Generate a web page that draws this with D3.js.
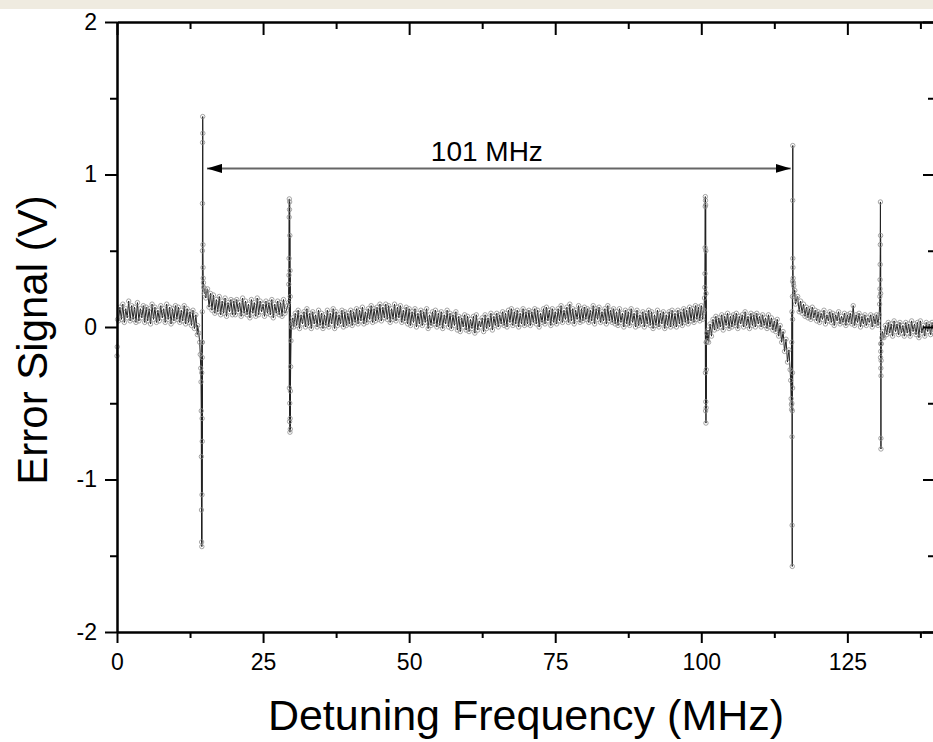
<!DOCTYPE html>
<html>
<head>
<meta charset="utf-8">
<script src="https://cdn.jsdelivr.net/npm/d3@7"></script>
<style>
  body { margin: 0; background: #fff; }
  text { font-family: "Liberation Sans", Arial, sans-serif; }
</style>
</head>
<body>
<div id="chart"></div>
<script>
let W = 933, H = 742

// upper edge of the noise band (V), every 0.5 MHz from 0.5 MHz
let bandStep = 0.5
let upperStart = 0.5
let upper = [
  0.13, 0.15, 0.12, 0.17, 0.14, 0.13, 0.16, 0.12, 0.14, 0.13,
  0.12, 0.15, 0.13, 0.11, 0.14, 0.12, 0.15, 0.13, 0.12, 0.14,
  0.13, 0.11, 0.14, 0.12, 0.10, 0.11, 0.08, 0.03, 0.10, 0.26,
  0.25, 0.22, 0.21, 0.18, 0.20, 0.17, 0.19, 0.16, 0.18, 0.17,
  0.18, 0.16, 0.19, 0.17, 0.15, 0.18, 0.16, 0.19, 0.17, 0.15,
  0.17, 0.16, 0.18, 0.15, 0.17, 0.16, 0.18, 0.17, 0.10, 0.08,
  0.09, 0.11, 0.08, 0.10, 0.12, 0.09, 0.10, 0.08, 0.11, 0.09,
  0.08, 0.11, 0.09, 0.12, 0.10, 0.08, 0.11, 0.10, 0.09, 0.11,
  0.10, 0.12, 0.11, 0.13, 0.10, 0.12, 0.14, 0.12, 0.13, 0.15,
  0.13, 0.15, 0.14, 0.12, 0.15, 0.13, 0.14, 0.11, 0.13, 0.12,
  0.10, 0.12, 0.09, 0.11, 0.10, 0.12, 0.08, 0.10, 0.11, 0.09,
  0.10, 0.08, 0.11, 0.09, 0.08, 0.10, 0.07, 0.06, 0.08, 0.07,
  0.05, 0.07, 0.08, 0.04, 0.06, 0.08, 0.06, 0.09, 0.07, 0.09,
  0.08, 0.10, 0.09, 0.11, 0.12, 0.10, 0.11, 0.09, 0.12, 0.10,
  0.11, 0.10, 0.12, 0.11, 0.09, 0.12, 0.13, 0.11, 0.12, 0.10,
  0.12, 0.14, 0.11, 0.13, 0.15, 0.12, 0.11, 0.14, 0.12, 0.13,
  0.12, 0.11, 0.14, 0.12, 0.13, 0.10, 0.12, 0.14, 0.11, 0.12,
  0.10, 0.12, 0.09, 0.11, 0.10, 0.12, 0.09, 0.11, 0.08, 0.10,
  0.09, 0.11, 0.10, 0.08, 0.11, 0.09, 0.10, 0.08, 0.10, 0.11,
  0.09, 0.11, 0.10, 0.12, 0.11, 0.13, 0.12, 0.14, 0.13, 0.14,
  0.12, 0.02, 0.02, 0.05, 0.07, 0.06, 0.08, 0.07, 0.09, 0.07,
  0.08, 0.09, 0.07, 0.08, 0.10, 0.07, 0.09, 0.08, 0.09, 0.07,
  0.08, 0.06, 0.08, 0.06, 0.04, 0.05, 0.01, -0.03, -0.08, -0.15,
  0.00, 0.00, 0.20, 0.17, 0.15, 0.13, 0.12, 0.13, 0.11, 0.10,
  0.09, 0.11, 0.08, 0.10, 0.09, 0.08, 0.10, 0.07, 0.09, 0.08,
  0.09, 0.14, 0.08, 0.09, 0.07, 0.08, 0.06, 0.08, 0.07, 0.08,
  0.00, 0.00, 0.01, 0.03, 0.02, 0.04, 0.02, 0.03, 0.01, 0.03,
  0.02, 0.04, 0.02, 0.03, 0.04, 0.01, 0.03, 0.02, 0.03, 0.02
]
// lower edge of the noise band (V), every 0.5 MHz from 0.25 MHz
let lowerStart = 0.25
let lower = [
  0.04, 0.05, 0.03, 0.06, 0.04, 0.05, 0.03, 0.04, 0.06, 0.03,
  0.04, 0.02, 0.05, 0.03, 0.04, 0.06, 0.03, 0.05, 0.02, 0.04,
  0.05, 0.03, 0.04, 0.02, 0.03, 0.01, -0.01, -0.05, 0.00, 0.00,
  0.15, 0.13, 0.11, 0.09, 0.10, 0.08, 0.09, 0.07, 0.10, 0.08,
  0.08, 0.10, 0.07, 0.09, 0.08, 0.06, 0.09, 0.07, 0.08, 0.10,
  0.07, 0.09, 0.08, 0.06, 0.09, 0.08, 0.07, 0.09, 0.00, 0.00,
  0.00, 0.01, -0.01, 0.02, 0.00, 0.01, -0.01, 0.02, 0.00, 0.01,
  -0.01, 0.01, 0.00, 0.02, -0.01, 0.01, 0.02, 0.00, 0.01, 0.02,
  0.01, 0.03, 0.02, 0.04, 0.02, 0.03, 0.05, 0.03, 0.04, 0.05,
  0.04, 0.06, 0.05, 0.03, 0.05, 0.04, 0.06, 0.03, 0.04, 0.02,
  0.01, 0.03, 0.00, 0.02, 0.01, 0.03, -0.01, 0.01, 0.02, 0.00,
  0.01, -0.01, 0.02, 0.00, -0.01, 0.01, -0.02, -0.03, 0.00, -0.02,
  -0.03, -0.01, -0.04, -0.02, 0.00, -0.03, -0.01, 0.00, -0.02, 0.01,
  0.00, 0.02, 0.01, 0.00, 0.03, 0.01, 0.02, 0.00, 0.02, 0.01,
  0.02, 0.01, 0.03, 0.02, 0.00, 0.03, 0.02, 0.04, 0.01, 0.03,
  0.02, 0.04, 0.03, 0.05, 0.03, 0.04, 0.02, 0.05, 0.03, 0.04,
  0.05, 0.03, 0.04, 0.02, 0.05, 0.03, 0.04, 0.02, 0.04, 0.03,
  0.02, 0.01, 0.03, 0.00, 0.02, 0.01, 0.03, 0.00, 0.01, 0.02,
  0.00, 0.02, 0.01, -0.01, 0.01, 0.00, 0.02, -0.01, 0.01, 0.00,
  0.01, 0.00, 0.02, 0.01, 0.03, 0.02, 0.04, 0.03, 0.05, 0.04,
  0.05, 0.00, -0.10, -0.06, -0.02, -0.01, 0.00, -0.02, 0.01, -0.01,
  0.00, 0.01, -0.01, 0.02, 0.00, 0.01, -0.01, 0.01, 0.00, 0.02,
  0.00, 0.01, -0.01, 0.00, -0.02, -0.03, -0.06, -0.10, -0.16, -0.23,
  0.00, 0.00, 0.00, 0.10, 0.09, 0.07, 0.06, 0.05, 0.06, 0.04,
  0.03, 0.05, 0.02, 0.04, 0.03, 0.01, 0.04, 0.02, 0.03, 0.01,
  0.03, 0.02, 0.01, 0.03, 0.00, 0.02, 0.01, 0.03, 0.00, 0.02,
  0.01, 0.00, -0.07, -0.05, -0.04, -0.06, -0.03, -0.05, -0.04, -0.06,
  -0.04, -0.06, -0.03, -0.05, -0.07, -0.04, -0.06, -0.03, -0.05, -0.04
]

// resonances, [MHz, V], read point by point
let startDrop = [[0, -0.19], [0.04, -0.13], [0.1, 0.05]]
let line1 = [
  [13.8, 0.01], [14.0, -0.04], [14.15, -0.10], [14.25, -0.18], [14.33, -0.27],
  [14.38, -0.36], [14.42, -0.55], [14.44, -0.85], [14.46, -1.2], [14.48, -1.41],
  [14.5, -0.3], [14.52, -1.44], [14.54, -0.1], [14.55, -1.1], [14.57, -0.6],
  [14.58, -0.2], [14.59, -0.75], [14.6, 0.1], [14.61, -0.1], [14.62, 0.5],
  [14.63, 0.81], [14.65, 1.21], [14.67, 1.38], [14.69, 1.27], [14.71, 0.54],
  [14.73, 0.39], [14.76, 0.32], [14.8, 0.29], [14.85, 0.26], [14.95, 0.22],
  [15.05, 0.25], [15.2, 0.19], [15.35, 0.23]
]
let line2 = [
  [29.0, 0.11], [29.2, 0.14], [29.35, 0.16], [29.4, 0.28], [29.43, 0.34],
  [29.45, 0.45], [29.47, 0.72], [29.49, 0.84], [29.5, -0.4], [29.52, 0.77],
  [29.54, -0.62], [29.55, 0.82], [29.57, -0.5], [29.58, 0.6], [29.6, -0.69],
  [29.62, 0.37], [29.63, -0.6], [29.65, 0.2], [29.66, -0.67], [29.68, -0.42],
  [29.72, -0.26], [29.78, -0.09], [29.85, 0.0], [29.95, 0.03], [30.1, 0.06]
]
let line3 = [
  [100.3, 0.09], [100.45, 0.11], [100.55, 0.19], [100.6, 0.26], [100.63, 0.35],
  [100.65, 0.52], [100.67, 0.79], [100.69, 0.855], [100.71, -0.3], [100.72, 0.83],
  [100.74, -0.55], [100.75, 0.8], [100.77, -0.49], [100.78, 0.5], [100.8, -0.63],
  [100.81, 0.22], [100.83, -0.53], [100.84, -0.1], [100.86, -0.28],
  [100.9, -0.1], [100.95, -0.04], [101.05, -0.09], [101.15, -0.02]
]
let line4 = [
  [115.2, -0.28], [115.3, -0.35], [115.38, -0.47], [115.43, -0.51], [115.46, -0.54],
  [115.48, -0.1], [115.5, -0.5], [115.52, 0.1], [115.53, -0.72], [115.55, -1.3],
  [115.57, -1.57], [115.58, -0.55], [115.6, 0.2], [115.61, -0.3], [115.62, 0.05],
  [115.63, -0.4], [115.64, 0.3], [115.65, 0.83], [115.66, 1.19], [115.67, 0.45],
  [115.69, 0.39], [115.72, 0.32], [115.76, 0.29], [115.82, 0.27], [115.9, 0.2],
  [116.0, 0.24], [116.12, 0.15], [116.3, 0.18]
]
let line5 = [
  [130.3, 0.04], [130.45, 0.08], [130.52, 0.15], [130.56, 0.2], [130.58, 0.25],
  [130.6, 0.31], [130.62, 0.41], [130.64, 0.54], [130.66, 0.82], [130.68, -0.2],
  [130.69, 0.6], [130.7, 0.22], [130.71, -0.11], [130.72, -0.16], [130.73, -0.27],
  [130.74, -0.73], [130.75, -0.8], [130.76, -0.32], [130.78, -0.22], [130.82, -0.11],
  [130.9, -0.07], [131.0, -0.03], [131.15, -0.06]
]
let features = [startDrop, line1, line2, line3, line4, line5]

let xTicks = [0, 25, 50, 75, 100, 125]
let xMinor = [12.5, 37.5, 62.5, 87.5, 112.5, 137.5]
let yTicks = [-2, -1, 0, 1, 2]
let yMinor = [-1.5, -0.5, 0.5, 1.5]

// 101 MHz marker: from, to (MHz), height (V), label position
let spanFrom = 15.4, spanTo = 115.3, spanY = 1.04
let spanLabel = "101 MHz", spanLabelAt = 63.3

// merge band edges with resonance points into one trace
let pts = []
function addBand(arr, start){
    arr.forEach((v, i) => {
        let f = start + i*bandStep
        let inside = features.some(ft => f >= ft[0][0] && f <= ft[ft.length-1][0])
        if(!inside) pts.push([f, v])
    })
}
addBand(upper, upperStart)
addBand(lower, lowerStart)
features.forEach(ft => ft.forEach(p => pts.push(p)))
pts.sort((a, b) => a[0] - b[0])

let svg = d3.select("#chart").append("svg")
    .attr("width", W)
    .attr("height", H)

svg.append("rect").attr("x", 0).attr("y", 0).attr("width", W).attr("height", 9)
    .attr("fill", "#efebe0")

let x = d3.scaleLinear().domain([0, 140]).range([117, 935])
let y = d3.scaleLinear().domain([-2, 2]).range([632, 22])

function styleAxis(g){
    g.selectAll("path, line").attr("stroke", "#000").attr("stroke-width", 2)
    g.selectAll("text").attr("font-size", 23).attr("fill", "#000")
        .attr("font-family", "Liberation Sans, Arial, sans-serif")
}

// data
let lineGen = d3.line().x(d => x(d[0])).y(d => y(d[1]))
let plot = svg.append("g")
plot.append("path")
    .datum(pts)
    .attr("d", lineGen)
    .attr("fill", "none")
    .attr("stroke", "#222")
    .attr("stroke-width", 1)
plot.selectAll("circle")
    .data(pts)
    .enter().append("circle")
    .attr("cx", d => x(d[0]))
    .attr("cy", d => y(d[1]))
    .attr("r", 2.2)
    .attr("fill", "none")
    .attr("stroke", "#8e8e8e")
    .attr("stroke-width", 0.8)

// axes
let fmt = d => String(d)
svg.append("g").attr("transform", "translate(0,632)")
    .call(d3.axisBottom(x).tickValues(xTicks).tickFormat(fmt).tickSize(11).tickPadding(11).tickSizeOuter(0))
    .call(styleAxis)
svg.append("g").attr("transform", "translate(0,632)")
    .call(d3.axisBottom(x).tickValues(xMinor).tickSize(6).tickFormat("").tickSizeOuter(0))
    .call(styleAxis)
svg.append("g").attr("transform", "translate(0,22)")
    .call(d3.axisTop(x).tickValues(xTicks).tickSize(-13).tickFormat("").tickSizeOuter(0))
    .call(styleAxis)
svg.append("g").attr("transform", "translate(0,22)")
    .call(d3.axisTop(x).tickValues(xMinor).tickSize(-7).tickFormat("").tickSizeOuter(0))
    .call(styleAxis)
svg.append("g").attr("transform", "translate(117,0)")
    .call(d3.axisLeft(y).tickValues(yTicks).tickFormat(fmt).tickSize(12).tickPadding(8).tickSizeOuter(0))
    .call(styleAxis)
svg.append("g").attr("transform", "translate(117,0)")
    .call(d3.axisLeft(y).tickValues(yMinor).tickSize(7).tickFormat("").tickSizeOuter(0))
    .call(styleAxis)
svg.append("g").attr("transform", "translate(935,0)")
    .call(d3.axisRight(y).tickValues(yTicks).tickSize(-12).tickFormat("").tickSizeOuter(0))
    .call(styleAxis)
svg.append("g").attr("transform", "translate(935,0)")
    .call(d3.axisRight(y).tickValues(yMinor).tickSize(-7).tickFormat("").tickSizeOuter(0))
    .call(styleAxis)

// span arrow
let defs = svg.append("defs")
defs.append("marker").attr("id", "head")
    .attr("viewBox", "0 0 15 9").attr("refX", 15).attr("refY", 4.5)
    .attr("markerWidth", 15).attr("markerHeight", 9)
    .attr("markerUnits", "userSpaceOnUse")
    .attr("orient", "auto-start-reverse")
    .append("path").attr("d", "M0,0 L15,4.5 L0,9 Z").attr("fill", "#000")
svg.append("line")
    .attr("x1", x(spanFrom)).attr("x2", x(spanTo))
    .attr("y1", y(spanY)).attr("y2", y(spanY))
    .attr("stroke", "#666").attr("stroke-width", 2)
    .attr("marker-start", "url(#head)")
    .attr("marker-end", "url(#head)")
svg.append("text")
    .attr("x", x(spanLabelAt))
    .attr("y", y(spanY) - 7)
    .attr("text-anchor", "middle")
    .attr("font-size", 28)
    .text(spanLabel)

// titles
svg.append("text")
    .attr("x", 526).attr("y", 730)
    .attr("text-anchor", "middle")
    .attr("font-size", 43)
    .text("Detuning Frequency (MHz)")
svg.append("text")
    .attr("transform", "translate(47,340) rotate(-90)")
    .attr("text-anchor", "middle")
    .attr("font-size", 42)
    .text("Error Signal (V)")
</script>
</body>
</html>
